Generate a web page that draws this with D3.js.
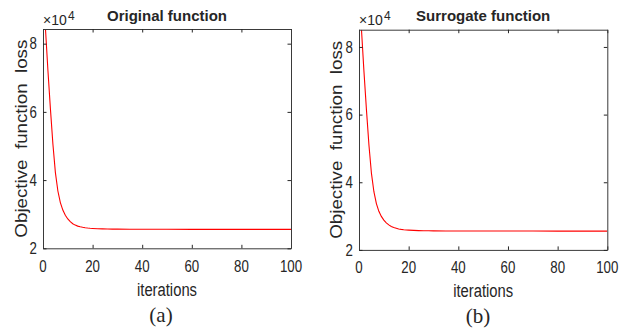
<!DOCTYPE html>
<html>
<head>
<meta charset="utf-8">
<script src="https://cdn.jsdelivr.net/npm/d3@7"></script>
<style>
  html, body { margin: 0; padding: 0; background: #fff; }
  svg { display: block; }
  text { font-family: "Liberation Sans", Arial, Helvetica, sans-serif; fill: #262626; }
</style>
</head>
<body>
<svg id="chart" width="632" height="332"></svg>
<script>
// ---- data (loss values in units of 10^4) ----
const iterations = [1,2,3,4,5,6,7,8,9,10,11,12,13,14,15,16,17,18,19,20,22,24,26,28,30,35,40,50,60,70,80,90,100];
const originalLoss = [8.43,7.20,6.08,5.05,4.22,3.68,3.34,3.12,2.97,2.86,2.78,2.72,2.68,2.65,2.63,2.615,2.603,2.594,2.587,2.582,2.574,2.569,2.565,2.563,2.561,2.559,2.558,2.557,2.556,2.556,2.555,2.555,2.555];
const surrogateLoss = [8.51,7.27,6.14,5.10,4.27,3.72,3.37,3.14,2.99,2.88,2.80,2.74,2.69,2.66,2.64,2.62,2.607,2.597,2.590,2.585,2.577,2.571,2.567,2.564,2.562,2.560,2.559,2.558,2.557,2.557,2.556,2.556,2.556];
const xTicks = [0,20,40,60,80,100];
const yTicks = [2,4,6,8];
const titles = ["Original function", "Surrogate function"];
const captions = ["(a)", "(b)"];
const xLabel = "iterations";
const yLabel = "Objective  function  loss";

const panels = [
  {series: originalLoss, title: titles[0], caption: captions[0],
   x0: 43, x1: 291, y0: 29, y1: 248.3, tickBase: 271.5, xlabBase: 295.5,
   ylabX: 26.5, capX: 161, capBase: 321.5},
  {series: surrogateLoss, title: titles[1], caption: captions[1],
   x0: 359, x1: 607.3, y0: 29.7, y1: 249.9, tickBase: 272.7, xlabBase: 296.7,
   ylabX: 342, capX: 478, capBase: 323}
];

const svg = d3.select("#chart");
const SX = 0.83; // horizontal squeeze of the sans texts

panels.forEach((p, i) => {
  const x = d3.scaleLinear().domain([0, 100]).range([p.x0, p.x1]);
  const y = d3.scaleLinear().domain([2, d3.max(p.series)]).range([p.y1, p.y0]);
  const g = svg.append("g");

  const clipId = "clip" + i;
  g.append("clipPath").attr("id", clipId).append("rect")
    .attr("x", p.x0).attr("y", p.y0).attr("width", p.x1 - p.x0).attr("height", p.y1 - p.y0);

  // line
  const pts = iterations.map((t, k) => [t, p.series[k]]);
  g.append("path").datum(pts)
    .attr("clip-path", `url(#${clipId})`)
    .attr("fill", "none").attr("stroke", "#ff0000").attr("stroke-width", 1.1)
    .attr("d", d3.line().x(d => x(d[0])).y(d => y(d[1])));

  // axes: bottom/top and left/right with inward ticks
  const tl = 3.5;
  const axB = g.append("g").attr("transform", `translate(0,${p.y1})`)
    .call(d3.axisBottom(x).tickValues(xTicks).tickSizeInner(-tl).tickSizeOuter(0).tickFormat(""));
  const axT = g.append("g").attr("transform", `translate(0,${p.y0})`)
    .call(d3.axisTop(x).tickValues(xTicks).tickSizeInner(-tl).tickSizeOuter(0).tickFormat(""));
  const axL = g.append("g").attr("transform", `translate(${p.x0},0)`)
    .call(d3.axisLeft(y).tickValues(yTicks).tickSizeInner(-tl).tickSizeOuter(0).tickFormat(""));
  const axR = g.append("g").attr("transform", `translate(${p.x1},0)`)
    .call(d3.axisRight(y).tickValues(yTicks).tickSizeInner(-tl).tickSizeOuter(0).tickFormat(""));
  [axB, axT, axL, axR].forEach(a => {
    a.selectAll("path.domain").attr("stroke", "#3a3a3a").attr("stroke-width", 1);
    a.selectAll(".tick line").attr("stroke", "#262626").attr("stroke-width", 1);
  });

  // x tick labels
  xTicks.forEach(v => {
    g.append("text")
      .attr("transform", `translate(${x(v)},${p.tickBase}) scale(${SX},1)`)
      .attr("text-anchor", "middle").attr("font-size", 16).text(v);
  });
  // y tick labels
  yTicks.forEach(v => {
    g.append("text")
      .attr("transform", `translate(${p.x0 - 6},${y(v) + 5.8}) scale(${SX},1)`)
      .attr("text-anchor", "end").attr("font-size", 16).text(v);
  });

  // exponent label (×10 with superscript 4)
  g.append("text").attr("x", p.x0).attr("y", 24.5).attr("font-size", 14).text("\u00d710");
  g.append("text").attr("x", p.x0 + 25).attr("y", 19.5).attr("font-size", 12).text("4");

  // title
  g.append("text")
    .attr("x", (p.x0 + p.x1) / 2).attr("y", 20.5)
    .attr("text-anchor", "middle").attr("font-size", 15).attr("font-weight", "bold")
    .attr("fill", "#000")
    .text(p.title);

  // x label
  g.append("text")
    .attr("x", (p.x0 + p.x1) / 2).attr("y", p.xlabBase)
    .attr("text-anchor", "middle").attr("font-size", 18)
    .attr("textLength", 60).attr("lengthAdjust", "spacingAndGlyphs")
    .text(xLabel);

  // y label
  g.append("text")
    .attr("transform", `translate(${p.ylabX},${(p.y0 + p.y1) / 2}) rotate(-90) scale(1,0.88)`)
    .attr("text-anchor", "middle").attr("font-size", 18)
    .style("white-space", "pre")
    .attr("textLength", 198).attr("lengthAdjust", "spacingAndGlyphs")
    .text(yLabel);

  // caption
  g.append("text")
    .attr("x", p.capX).attr("y", p.capBase)
    .attr("text-anchor", "middle").attr("font-size", 21)
    .style("font-family", "'Liberation Serif', 'Times New Roman', serif")
    .attr("fill", "#000")
    .text(p.caption);
});
</script>
</body>
</html>
